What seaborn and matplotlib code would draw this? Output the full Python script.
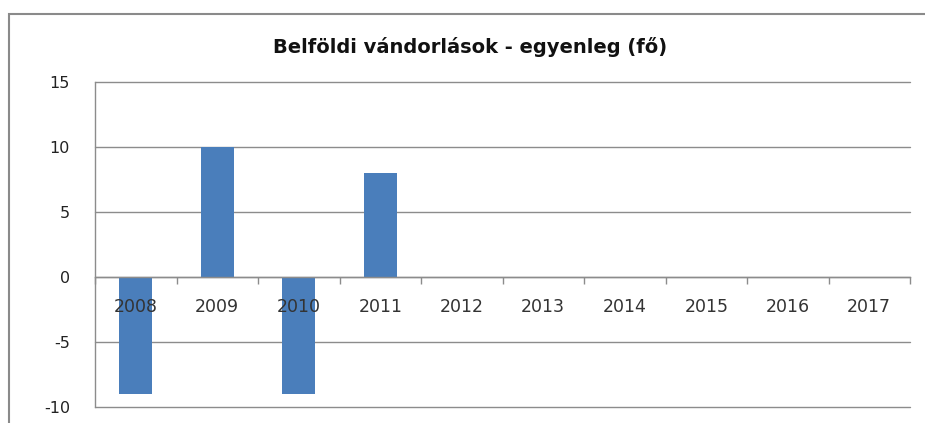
import matplotlib
matplotlib.use("Agg")
import matplotlib.pyplot as plt
import seaborn as sns
import pandas as pd
from matplotlib.patches import Rectangle
from matplotlib.ticker import FixedLocator, NullFormatter

years = ["2008", "2009", "2010", "2011", "2012", "2013", "2014", "2015", "2016", "2017"]
values = [-9, 10, -9, 8, 0, 0, 0, 0, 0, 0]
y_ticks = [-10, -5, 0, 5, 10, 15]
title = "Belföldi vándorlások - egyenleg (fő)"

sns.set_theme(style="white")
plt.rcParams['font.family'] = ['DejaVu Sans']

df = pd.DataFrame({"year": years, "value": values})

fig = plt.figure(figsize=(9.25, 4.23), dpi=100)
ax = fig.add_axes([95/925, 16/423, 815/925, (407-82.5)/423])

sns.barplot(data=df, x="year", y="value", color="#4A7EBB", width=0.4,
            saturation=1, linewidth=0, ax=ax, zorder=2)

ax.set_xlim(-0.5, len(years) - 0.5)
ax.set_ylim(-10, 15)
ax.set_yticks(y_ticks)
ax.set_yticklabels([str(t) for t in y_ticks])
ax.set_xlabel("")
ax.set_ylabel("")

# gridlines
ax.yaxis.grid(True, color="#8c8c8c", linewidth=1.0)
for gl in ax.yaxis.get_gridlines():
    gl.set_clip_on(False)
ax.yaxis.set_zorder(0.5)
ax.tick_params(axis="y", length=7, width=1, color="#8c8c8c", labelsize=11.5,
               labelcolor="#222222", pad=11)

# x axis at zero
for s in ["top", "right"]:
    ax.spines[s].set_visible(False)
ax.spines["left"].set_color("#8c8c8c")
ax.spines["left"].set_linewidth(1.0)
ax.spines["bottom"].set_position(("data", 0))
ax.spines["bottom"].set_color("#8c8c8c")
ax.spines["bottom"].set_linewidth(1.0)
ax.spines["bottom"].set_zorder(3)
ax.xaxis.set_zorder(4)
ax.xaxis.set_minor_locator(FixedLocator([i - 0.5 for i in range(len(years) + 1)]))
ax.xaxis.set_minor_formatter(NullFormatter())
ax.tick_params(axis="x", which="major", length=0, labelsize=12.5, labelcolor="#333333", pad=15)
ax.tick_params(axis="x", which="minor", length=5, width=1, color="#8c8c8c", direction="out", bottom=True)

fig.text(470/925, 1 - 47/423, title, ha="center", va="center",
         fontsize=14, fontweight="bold", color="#111111")

frame = Rectangle((9/925, -0.05), 1.2, 1 - 14/423 + 0.05, transform=fig.transFigure,
                  fill=False, edgecolor="#8a8a8a", linewidth=1.5)
fig.patches.append(frame)

fig.savefig("out.png", dpi=100)
